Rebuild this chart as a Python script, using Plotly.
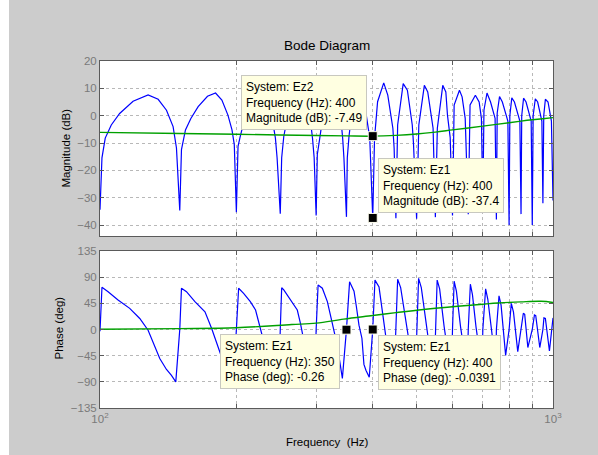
import plotly.graph_objects as go

# ---------------- data ----------------
mag1_freq = [100, 101, 102.7, 105.9, 110.5, 118.3, 127.7, 134.4, 140.2, 145.0, 147.5,
             150, 151.3, 154.4, 158.7, 164.7, 172.7, 179.9, 185.8, 191.6, 195.6, 197.9,
             200, 201.7, 204, 208, 214, 222, 228, 236, 241, 243.9, 246,
             250, 251.8, 254.5, 259, 266, 274, 280, 287, 292, 294.5, 297,
             300, 301.8, 305.6, 310, 316, 323, 330, 337, 341, 343.3, 345.5,
             350, 351.5, 354.5, 359, 366, 373, 380, 387, 391, 394,
             400, 403.7, 410, 423, 431.8, 443.1, 446,
             450, 454, 467, 477, 489, 492,
             500, 505.6, 520, 529, 543.6,
             550, 555.5, 571, 580, 585, 593,
             600, 605, 621.6, 630, 640,
             650, 656, 674, 687, 695,
             700, 704, 715, 728, 745,
             750, 753, 762, 773, 795,
             800, 803, 811, 822, 845,
             850, 853, 861, 872, 895,
             900, 904, 914, 925, 945,
             950, 954, 962, 975, 992,
             1000]
mag1_db = [-34.4, -15.4, -8.2, -3.4, 0.8, 5.3, 7.6, 6.0, 2.0, -4.0, -11.8,
           -34.7, -12.4, -5.2, -1.0, 3.3, 7.1, 8.3, 5.7, 0.2, -5.2, -10.6,
           -35.3, -11.2, -7.6, -2.0, 4.0, 9.6, 9.0, 3.0, -3.0, -8.2, -15.4,
           -35.9, -15.4, -7.6, -1.0, 5.5, 10.5, 9.5, 3.0, -3.0, -8.2, -15.4,
           -36.5, -14.2, -8.2, -1.0, 6.0, 11.0, 9.5, 2.0, -3.0, -8.2, -15.4,
           -37.0, -15.4, -7.6, 0.0, 7.0, 11.5, 9.0, 1.0, -4.0, -8.2,
           -37.4, -8.2, 5.1, 12.0, 7.5, -4.6, -12.0,
           -37.5, -3.4, 11.7, 9.3, -3.4, -10.0,
           -37.7, -3.4, 11.1, 8.7, -4.6,
           -37.1, -4.6, 11.1, 8.7, 0.0, -8.0,
           -36.5, 3.9, 9.3, 6.9, -1.0,
           -36.0, 3.9, 7.5, 5.0, -1.0,
           -33.0, 2.0, 8.3, 5.0, -1.0,
           -38.0, 1.0, 7.0, 5.0, -2.0,
           -40.0, 0.0, 6.5, 5.0, -2.0,
           -36.0, 0.0, 6.4, 5.0, -2.0,
           -40.0, 0.0, 6.2, 5.0, -2.0,
           -32.0, 0.0, 6.0, 5.0, -2.0,
           -31.0]

mag2_freq = [100, 150, 200, 250, 300, 350, 400, 450, 500, 550, 600, 650, 700, 750,
             800, 850, 900, 950, 1000]
mag2_db = [-6.1, -6.5, -6.8, -7.05, -7.25, -7.4, -7.49, -7.2, -6.7, -6.0, -5.2, -4.5,
           -3.8, -3.2, -2.6, -2.0, -1.5, -1.1, -0.7]

ph1_freq = [100, 101, 104.2, 109.6, 116.3, 122.4, 127.7, 131, 135.5, 140.2, 143.8, 147,
            150, 151.3, 155.2, 162, 170.5, 176.4, 182.4, 187, 192, 197,
            200, 202.3, 207.5, 214.7, 220.5, 224.3, 228.2, 236, 243, 248,
            250, 251.8, 254.5, 265.4, 272.6, 277, 280.5, 287, 294, 298,
            300, 303, 309.6, 317.6, 325.6, 334.3, 342.8,
            350, 355.6, 363.7, 368, 373, 378.6, 382.5, 386.4, 393,
            400, 404.6, 413, 424.2, 435, 446,
            450, 454, 461, 475, 490, 497,
            500, 505, 512, 525, 540, 547,
            550, 555, 562, 575, 590, 597,
            600, 605, 612, 625, 640, 647,
            650, 657, 664, 676, 690, 697,
            700, 710, 718, 730, 742, 748,
            750, 760, 768, 786,
            800, 809, 818, 836,
            850, 860, 866, 880,
            900, 910, 916, 935,
            950, 955, 962, 982,
            1000]
ph1_deg = [-3, 72.7, 65, 50.8, 36.4, 19, -1.2, -21, -50, -68.7, -79, -90,
           0, 71, 65, 47.9, 30.6, 1.7, -33, -55, -75, -89,
           0, 71, 62, 48, 33.5, 10.4, -12.7, -55, -80, -89,
           0, 72, 68, 48, 33.5, 10.4, -12.7, -50, -80, -88,
           0, 76.7, 71, 48, 11, -29, -84,
           -0.26, 82, 66, 40, 7.5, -15, -60, -70, -82,
           -0.0391, 85, 73, 7.5, -55, -80,
           0, 86.5, 72, 5, -60, -75,
           0, 88, 72, 5, -60, -72,
           0, 85, 70, 5, -55, -70,
           0, 83, 66, 5, -50, -65,
           0, 78, 60, 5, -45, -60,
           0, 70, 52, 0, -40, -50,
           0, 58, 42, -44.5,
           0, 45, 30, -38,
           0, 28, 26, -31,
           0, 25, 24, -31,
           0, 20, 19, -37,
           20]

ph2_freq = [100, 150, 200, 265, 300, 345, 400, 450, 518, 616, 700, 757, 850, 941, 1000]
ph2_deg = [0.5, 1.5, 3.0, 8.5, 11.0, 17.8, 24.0, 29.0, 34.5, 40.0, 43.5, 45.5, 47.5, 48.5, 46.5]

# data tips
tip_mag_freq = [400, 400]
tip_mag_val = [-7.49, -37.4]
tip_ph_freq = [350, 400]
tip_ph_val = [-0.26, -0.0391]

x_tickvals = [100, 200, 300, 400, 500, 600, 700, 800, 900, 1000]
x_ticktext = ["10<sup>2</sup>", " ", " ", " ", " ", " ", " ", " ", " ", "10<sup>3</sup>"]
mag_ticks = [-40, -30, -20, -10, 0, 10, 20]
ph_ticks = [-135, -90, -45, 0, 45, 90, 135]

# ---------------- figure ----------------
FONT = "Liberation Sans, Arial, Helvetica, sans-serif"
BLUE = "#0000ff"
GREEN = "#00a000"

fig = go.Figure()
fig.add_trace(go.Scatter(x=mag1_freq, y=mag1_db, mode="lines", xaxis="x", yaxis="y",
                         line=dict(color=BLUE, width=1.2), hoverinfo="skip", showlegend=False))
fig.add_trace(go.Scatter(x=mag2_freq, y=mag2_db, mode="lines", xaxis="x", yaxis="y",
                         line=dict(color=GREEN, width=1.4, shape="spline"), hoverinfo="skip", showlegend=False))
fig.add_trace(go.Scatter(x=ph1_freq, y=ph1_deg, mode="lines", xaxis="x2", yaxis="y2",
                         line=dict(color=BLUE, width=1.2), hoverinfo="skip", showlegend=False))
fig.add_trace(go.Scatter(x=ph2_freq, y=ph2_deg, mode="lines", xaxis="x2", yaxis="y2",
                         line=dict(color=GREEN, width=1.4, shape="spline"), hoverinfo="skip", showlegend=False))

mk = dict(symbol="square", size=9, color="black", line=dict(color="#fffff0", width=1))
fig.add_trace(go.Scatter(x=tip_mag_freq, y=tip_mag_val, mode="markers", xaxis="x", yaxis="y",
                         marker=mk, hoverinfo="skip", showlegend=False))
fig.add_trace(go.Scatter(x=tip_ph_freq, y=tip_ph_val, mode="markers", xaxis="x2", yaxis="y2",
                         marker=mk, hoverinfo="skip", showlegend=False))

axis_common = dict(showline=True, linecolor="#5a5a5a", linewidth=1, mirror="ticks",
                   ticks="inside", ticklen=4, tickcolor="#5a5a5a",
                   showgrid=True, gridcolor="#b8b8b8", griddash="dot", gridwidth=1,
                   zeroline=False, tickfont=dict(family=FONT, size=11.5, color="#7a7a7a"))

fig.update_layout(
    width=598, height=455,
    margin=dict(l=100, r=45, t=61, b=47, pad=0),
    paper_bgcolor="#cccccc", plot_bgcolor="white",
    font=dict(family=FONT, size=11.5, color="black"),
    xaxis=dict(type="log", range=[2, 3], domain=[0, 1], anchor="y",
               tickvals=x_tickvals, showticklabels=False, **axis_common),
    yaxis=dict(range=[-44, 20], domain=[0.4957, 1], anchor="x", tickvals=mag_ticks, **axis_common),
    xaxis2=dict(type="log", range=[2, 3], domain=[0, 1], anchor="y2", matches="x",
                tickvals=x_tickvals, ticktext=x_ticktext, **axis_common),
    yaxis2=dict(range=[-135, 135], domain=[0, 0.4524], anchor="x2", tickvals=ph_ticks, **axis_common),
)

# white strip at the left edge of the window
fig.add_shape(type="rect", xref="paper", yref="paper", x0=-100/453, x1=-91/453,
              y0=-47/347, y1=(455-47)/347 + 61/347, fillcolor="white", line=dict(width=0), layer="below")

ann_font = dict(family=FONT, size=11.5, color="black")
fig.add_annotation(text="Bode Diagram", xref="paper", yref="paper", x=0.5, y=(408-45)/347,
                   showarrow=False, font=dict(family=FONT, size=13.5, color="black"), yanchor="middle")
fig.add_annotation(text="Magnitude (dB)", xref="paper", yref="paper", x=(65-100)/453, y=(408-148.5)/347,
                   showarrow=False, textangle=-90, font=ann_font, xanchor="center", yanchor="middle")
fig.add_annotation(text="Phase (deg)", xref="paper", yref="paper", x=(58-100)/453, y=(408-328.5)/347,
                   showarrow=False, textangle=-90, font=ann_font, xanchor="center", yanchor="middle")
fig.add_annotation(text="Frequency \u00a0(Hz)", xref="paper", yref="paper", x=(327-100)/453, y=(408-442)/347,
                   showarrow=False, font=ann_font, xanchor="center", yanchor="middle")

tip_style = dict(showarrow=False, align="left", bgcolor="#ffffe1", bordercolor="#c8c8c0",
                 borderwidth=1, borderpad=4, font=dict(family=FONT, size=12, color="black"))
fig.add_annotation(x=2.60206, y=tip_mag_val[0], xref="x", yref="y",
                   text="System: Ez2<br>Frequency (Hz): 400<br>Magnitude (dB): -7.49",
                   xanchor="right", yanchor="bottom", xshift=-6, yshift=6, **tip_style)
fig.add_annotation(x=2.60206, y=tip_mag_val[1], xref="x", yref="y",
                   text="System: Ez1<br>Frequency (Hz): 400<br>Magnitude (dB): -37.4",
                   xanchor="left", yanchor="bottom", xshift=5.5, yshift=5.3, **tip_style)
fig.add_annotation(x=2.544068, y=tip_ph_val[0], xref="x2", yref="y2",
                   text="System: Ez1<br>Frequency (Hz): 350<br>Phase (deg): -0.26",
                   xanchor="right", yanchor="top", xshift=-6.4, yshift=-4.7, **tip_style)
fig.add_annotation(x=2.60206, y=tip_ph_val[1], xref="x2", yref="y2",
                   text="System: Ez1<br>Frequency (Hz): 400<br>Phase (deg): -0.0391",
                   xanchor="left", yanchor="top", xshift=5.4, yshift=-5.3, **tip_style)

fig.write_html("out.html")
